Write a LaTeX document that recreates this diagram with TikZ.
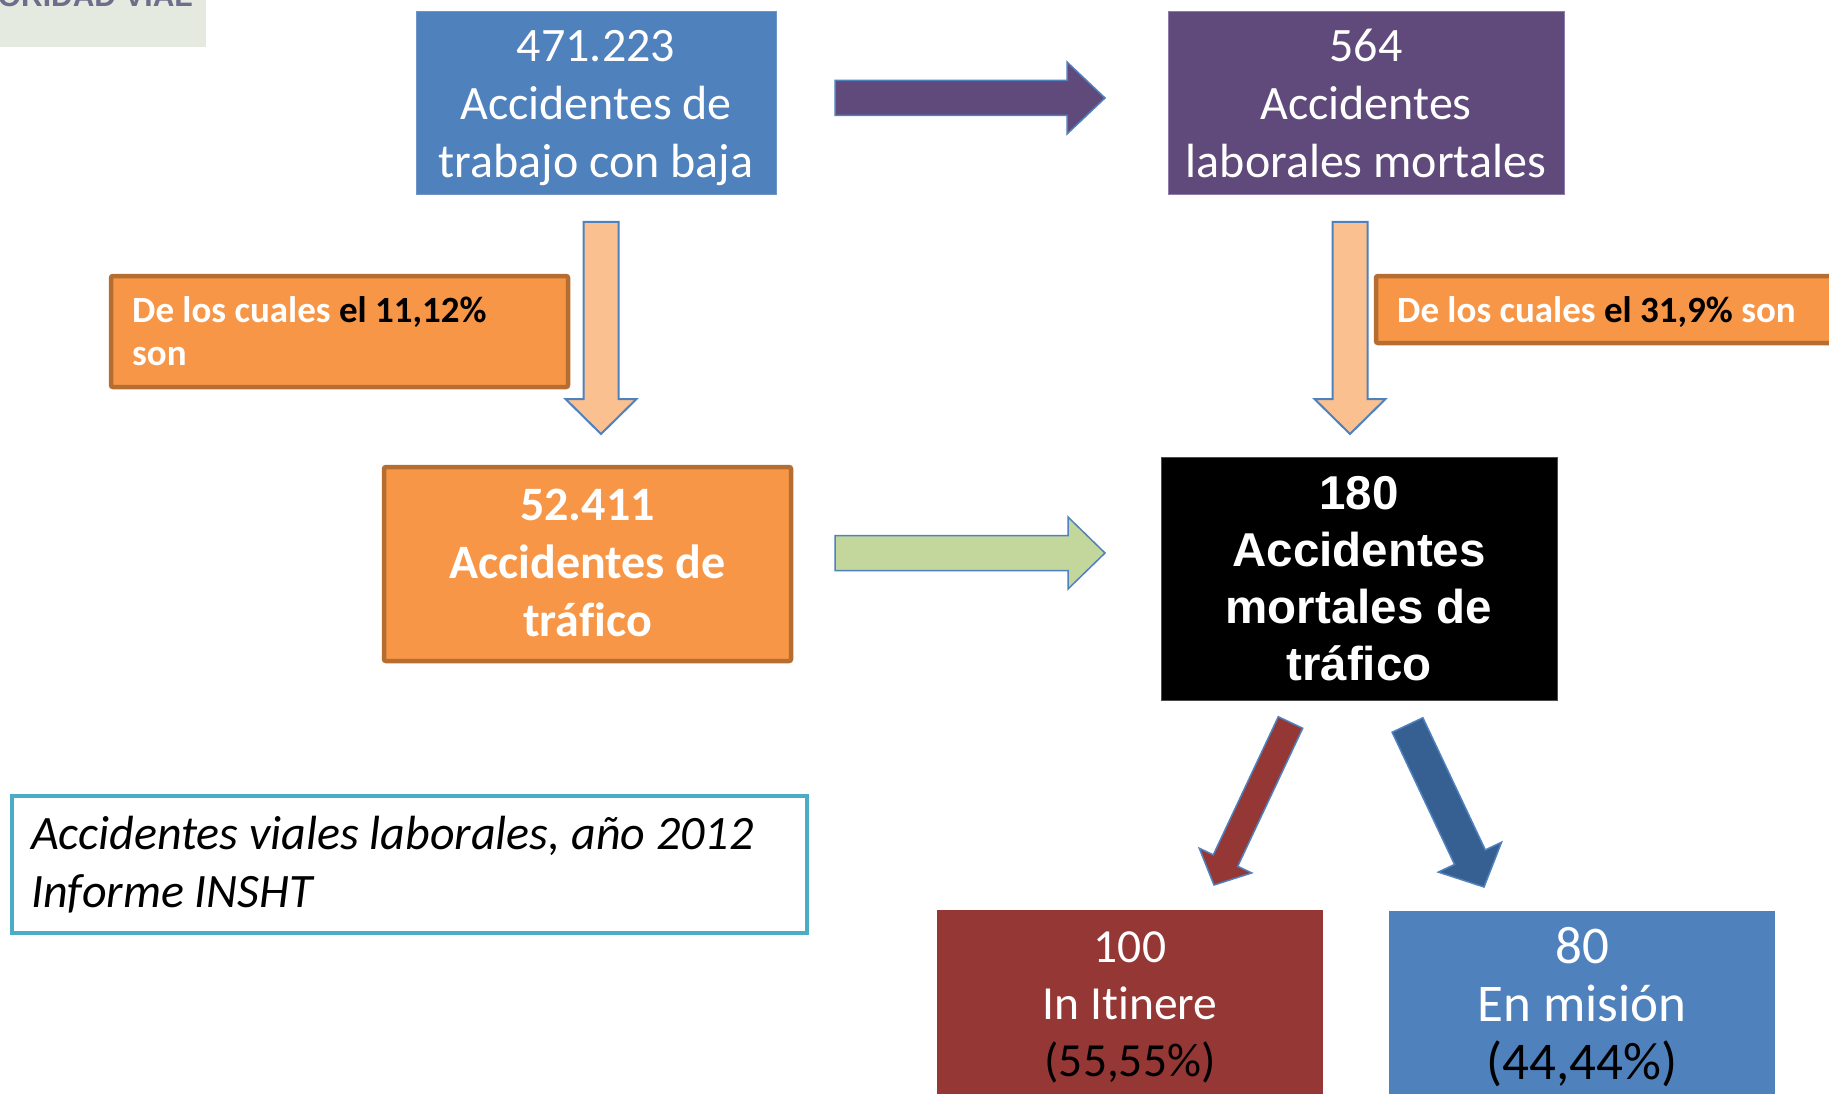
\documentclass[tikz,border=0pt]{standalone}
\usepackage{fontspec}
\setmainfont{Carlito}[Ligatures=CommonOff]
\newfontfamily\arialfont{Liberation Sans}
\usetikzlibrary{calc}

\definecolor{cBlue}{HTML}{4F81BD}
\definecolor{cBlueEdge}{HTML}{6F95C8}
\definecolor{cPurple}{HTML}{604A7B}
\definecolor{cPurpleEdge}{HTML}{8E7CA8}
\definecolor{cOrange}{HTML}{F79646}
\definecolor{cOrangeEdge}{HTML}{B66D31}
\definecolor{cPeach}{HTML}{FAC090}
\definecolor{cGreen}{HTML}{C3D69B}
\definecolor{cRed}{HTML}{953735}
\definecolor{cDarkBlue}{HTML}{376092}
\definecolor{cTeal}{HTML}{4BACC6}
\definecolor{cLogoBg}{HTML}{E4EADF}
\definecolor{cLogoText}{HTML}{6E6E8C}

% block arrow: #1 style, #2 tail, #3 tip, #4 half shaft width, #5 half head width, #6 head length
\newcommand{\myblockarrow}[6]{%
  \coordinate (bah) at ($(#3)!#6!(#2)$);
  \draw[#1] ($(#2)!#4!90:(#3)$) -- ($(bah)!#4!90:(#3)$) -- ($(bah)!#5!90:(#3)$) -- (#3)
     -- ($(bah)!#5!-90:(#3)$) -- ($(bah)!#4!-90:(#3)$) -- ($(#2)!#4!-90:(#3)$) -- cycle;
}

\tikzset{
  boxshape/.style={rectangle, inner sep=0pt, outer sep=0pt},
  orangebox/.style={boxshape, fill=cOrange, draw=cOrangeEdge, line width=4.5pt, rounded corners=2pt},
  regtxt/.style={font=\fontsize{48}{58}\selectfont, text=white, align=flush center, inner sep=0pt, anchor=base},
  boldtxt/.style={font=\bfseries\fontsize{48}{58}\selectfont, text=white, align=flush center, inner sep=0pt, anchor=base},
  labeltxt/.style={font=\bfseries\fontsize{37}{43}\selectfont, text=white, inner sep=0pt, anchor=base west},
  blockarr/.style={draw=cBlue, line width=1.5pt, line join=miter},
}

\begin{document}
\begin{tikzpicture}[x=1pt,y=-1pt]
\useasboundingbox (0,0) rectangle (1829,1094);
\clip (0,0) rectangle (1829,1094);
\fill[white] (0,0) rectangle (1829,1094);

% logo remnant
\fill[cLogoBg] (0,0) rectangle (206,47);
\node[font=\arialfont\bfseries\fontsize{30}{30}\selectfont, text=cLogoText, inner sep=0pt, anchor=base east] (logo) at (193,7) {ORIDAD VIAL};

% top row
\node[boxshape, fill=cBlue, draw=cBlueEdge, line width=1pt, minimum width=360, minimum height=183] (b1) at (596,103.5) {};
\node[regtxt, text width=380] (b1t) at ($(b1.north)+(0,50)$) {471.223\\Accidentes de\\trabajo con baja};

\node[boxshape, fill=cPurple, draw=cPurpleEdge, line width=1pt, minimum width=396, minimum height=183] (b2) at (1366,103.5) {};
\node[regtxt, text width=400] (b2t) at ($(b2.north)+(0,50)$) {564\\Accidentes\\laborales mortales};

% labels
\node[orangebox, minimum width=457, minimum height=111] (l1) at (339.5,331.5) {};
\node[labeltxt, text width=420, align=flush left] (l1t) at (132,322) {De los cuales \textcolor{black}{el 11,12\%}\\son};

\node[orangebox, minimum width=484, minimum height=67] (l2) at (1618,309.5) {};
\node[labeltxt] (l2t) at (1397,322) {De los cuales \textcolor{black}{el 31,9\%} son};

% middle row
\node[orangebox, minimum width=407, minimum height=194] (b3) at (587.5,564) {};
\node[boldtxt, text width=400] (b3t) at ($(b3.north)+(0,53)$) {52.411\\Accidentes de\\tráfico};

\node[boxshape, fill=black, draw=black!70, line width=1pt, minimum width=396, minimum height=243] (b4) at (1359,578.5) {};
\node[boldtxt, font=\arialfont\bfseries\fontsize{47.5}{57.3}\selectfont, text width=390] (b4t) at ($(b4.north)+(0,52)$) {180\\Accidentes\\mortales de\\tráfico};

% bottom row
\node[boxshape, fill=cRed, minimum width=386, minimum height=220] (b5) at (1130,1020) {};
\node[regtxt, font=\fontsize{47.5}{57}\selectfont, text width=380] (b5t) at (1130,962) {100\\In Itinere\\\textcolor{black}{(55,55\%)}};

\node[boxshape, fill=cBlue, minimum width=386, minimum height=219] (b6) at (1582,1020.5) {};
\node[regtxt, font=\fontsize{53}{58}\selectfont, text width=380] (b6t) at (1582,963) {80\\En misión\\\textcolor{black}{(44,44\%)}};

% source box
\node[boxshape, fill=white, draw=cTeal, line width=4pt, minimum width=795, minimum height=137] (info) at (409.5,864.5) {};
\node[font=\itshape\fontsize{48}{58}\selectfont, text=black, inner sep=0pt, anchor=base west, text width=770, align=flush left] (infot) at (31,849) {Accidentes viales laborales, año 2012\\Informe INSHT};

% arrow end points
\coordinate (pA) at (835,98);   \coordinate (pB) at (1105,98);
\coordinate (gA) at (835,553);  \coordinate (gB) at (1105,553);
\coordinate (lA) at (601,222);  \coordinate (lB) at (601,434);
\coordinate (rA) at (1350,222); \coordinate (rB) at (1350,434);
\coordinate (dA) at (1290.5,722.5); \coordinate (dB) at (1214,885);
\coordinate (eA) at (1407.5,725);   \coordinate (eB) at (1484,887);

\myblockarrow{blockarr, fill=cPurple}{pA}{pB}{17.5pt}{36pt}{38pt}
\myblockarrow{blockarr, fill=cGreen}{gA}{gB}{17.5pt}{36pt}{37pt}
\myblockarrow{blockarr, fill=cPeach, line width=2pt}{lA}{lB}{17.5pt}{35.5pt}{35pt}
\myblockarrow{blockarr, fill=cPeach, line width=2pt}{rA}{rB}{17.5pt}{35.5pt}{35pt}
\myblockarrow{blockarr, fill=cRed}{dA}{dB}{13.5pt}{29pt}{27pt}
\myblockarrow{blockarr, fill=cDarkBlue}{eA}{eB}{17pt}{35pt}{33pt}

\end{tikzpicture}
\end{document}
